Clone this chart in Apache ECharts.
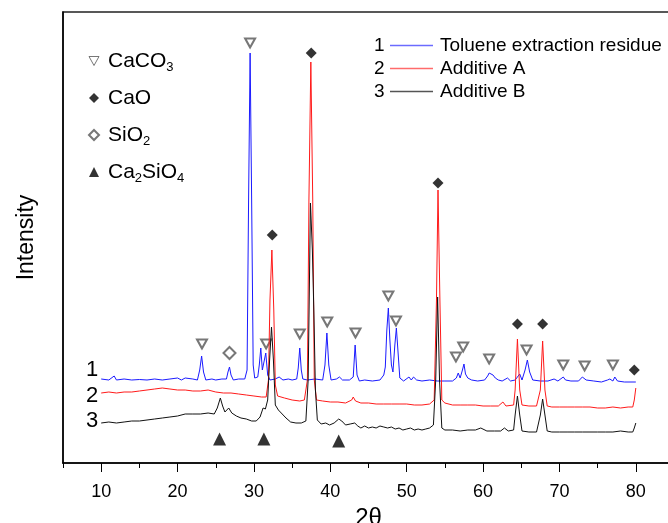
<!DOCTYPE html>
<html>
<head>
<meta charset="utf-8">
<script src="https://cdn.jsdelivr.net/npm/echarts@6/dist/echarts.min.js"></script>
<style>
  html, body { margin: 0; padding: 0; background: #fff; }
  #main { width: 668px; height: 523px; }
</style>
</head>
<body>
<div id="main"></div>
<script>
// XRD patterns, 2theta vs intensity (arbitrary units)
var toluene = [
  [10,84],[11,83],[11.7,87],[12,83],[13,84],[14,83],[15,83.5],[16,83],[17,84],[18,83],[19,84],[20,85],[20.5,83],[21,85],[22,84],[22.6,83],
  [22.9,93],[23.15,107],[23.4,91],[23.7,83],[24.5,84],[25,83],[25.8,84],[26.4,84],[26.6,91],[26.8,96],[27,88],[27.3,83],[28,84],[28.8,84],
  [29.1,93],[29.3,263],[29.5,410],[29.7,263],[29.9,98],[30.1,85],[30.5,86],[30.7,98],[30.9,115],[31.1,93],[31.3,93],[31.55,110],[31.8,88],
  [32.1,83],[32.8,84],[33.3,86],[33.8,83],[34.5,84],[35,83],[35.6,84],[35.8,95],[36,115],[36.2,93],[36.4,84],[37,83],[38,84],[39,83],
  [39.3,98],[39.55,130],[39.8,98],[40.1,83],[40.8,84],[41.2,86],[41.6,83],[42.5,83],[43,86],[43.25,118],[43.5,88],[43.8,82],[44.5,83],
  [45.5,82],[46.5,83],[47,88],[47.2,96],[47.4,133],[47.6,155],[47.8,123],[48,98],[48.2,91],[48.45,118],[48.65,135],[48.85,113],[49.1,85],
  [49.6,82],[50.3,86],[50.6,83],[50.9,86],[51.3,83],[52,82],[53,83],[54,82],[55,82],[56,82],[56.5,85],[56.75,90],[57,85],[57.3,93],
  [57.5,99],[57.7,89],[58,85],[58.2,87],[58.5,83],[59.3,82],[60.2,83],[60.6,87],[60.8,90],[61,88],[61.3,88],[61.6,85],[62,83],[62.5,82],
  [63.2,85],[63.6,82],[64.2,83],[64.8,89],[65.1,83],[65.5,93],[65.8,103],[66.1,91],[66.5,83],[67.5,82],[68.5,82],[69.3,84],[69.8,82],
  [70.5,86],[70.8,83],[71.5,82],[72.5,82],[73,86],[73.2,87],[73.5,83],[74.5,82],[75.5,81],[76.3,83],[76.6,84],[77,82],[77.25,86],
  [77.6,82],[78.5,81],[79.5,81],[80,81]
];
var additiveA = [
  [10,70],[11,71],[12,70],[13,71],[14,71],[15,72],[16,73],[17,74],[18,75],[19,74],[20,73],[21,73],[22,72],[23,72],[24,73],[25,71],
  [26,70],[27,70],[28,69],[29,68],[30,67],[31,66],[31.6,66],[31.9,83],[32.1,163],[32.35,213],[32.6,153],[32.8,78],[33.1,67],[34,65],
  [35,63],[36,62],[36.6,63],[37,83],[37.2,263],[37.45,401],[37.7,263],[37.9,83],[38.2,63],[39,62],[40,61],[41,61],[42,60],[42.8,63],
  [43,66],[43.3,62],[44,60],[45,60],[46,59],[47,59],[48,59],[49,59],[50,59],[51,58],[52,58],[53,59],[53.6,63],[53.9,163],[54.1,273],
  [54.35,163],[54.6,63],[55,60],[56,58],[57,58],[58,58],[59,58],[60,57],[61,57],[62,57],[62.6,61],[63,57],[64,58],[64.2,73],[64.5,124],
  [64.8,73],[65.1,58],[66,57],[67,57],[67.5,73],[67.8,122],[68.1,73],[68.4,57],[69,56],[70,56],[71,56],[72,56],[73,56],[74,56],[75,55],
  [76,55],[77,56],[78,55],[79,56],[79.6,56],[79.8,63],[80,75]
];
var additiveB = [
  [10,40],[11,41],[12,40],[13,41],[14,42],[15,42],[16,43],[17,44],[18,45],[19,46],[20,47],[21,49],[22,49],[23,49],[24,50],[24.8,49],
  [25.2,55],[25.6,65],[25.9,57],[26.2,51],[26.7,55],[27.1,50],[27.7,47],[28.3,45],[29,44],[29.7,42],[30.3,42],[30.8,46],[31.2,55],
  [31.5,54],[31.8,63],[32.05,103],[32.3,136],[32.55,103],[32.8,58],[33.2,53],[33.7,49],[34.2,45],[34.8,41],[35.5,40],[36.2,40],[36.8,42],
  [37.1,83],[37.4,260],[37.65,213],[37.85,150],[38.05,73],[38.3,43],[38.8,39],[39.4,40],[39.9,38],[40.5,40],[41.1,44],[41.5,42],[42,38],
  [42.6,39],[43.2,40],[43.6,37],[44,35],[44.5,37],[45,35],[45.5,36],[46,35],[46.5,37],[47,36],[47.5,35],[48,36],[48.5,34],[49,35],
  [49.5,33],[50,34],[50.5,35],[51,33],[51.5,34],[52,33],[52.5,34],[53,35],[53.5,38],[53.8,83],[54.05,166],[54.3,83],[54.6,35],[55,33],
  [56,33],[57,32],[58,33],[59,33],[59.7,35],[60.5,32],[61.5,32],[62.3,32],[62.8,35],[63.3,32],[64,33],[64.2,48],[64.5,67],[64.8,48],
  [65.1,32],[66,31],[67,31],[67.5,48],[67.8,64],[68.1,48],[68.4,32],[69,31],[70,31],[71,31],[72,31],[73,31],[74,31],[75,31],[76,31],
  [77,31],[78,32],[79,31],[79.6,31],[79.8,35],[80,40]
];

// phase markers
var caco3Marks = [[23.2,119],[29.5,420],[31.6,119],[36.0,129],[39.6,141],[43.3,130],[47.6,167],[48.6,142],[56.45,106],[57.4,116],
  [60.8,104],[65.7,113],[70.5,98],[73.3,97],[77.0,98]];
var caoMarks = [[32.4,228],[37.5,410],[54.1,280],[64.5,139],[67.8,139],[79.8,93]];
var sio2Marks = [[26.8,110]];
var ca2sio4Marks = [[25.5,24],[31.3,24],[41.1,22]];

var xTicks = [10, 20, 30, 40, 50, 60, 70, 80];

var FONT = 'Liberation Sans, Arial, sans-serif';
var BLUE = '#1a1aff', RED = '#ff1a1a', BLACK = '#111';
var phaseText = {
  'CaCO3': 'CaCO{s|3}',
  'CaO': 'CaO',
  'SiO2': 'SiO{s|2}',
  'Ca2SiO4': 'Ca{s|2}SiO{s|4}'
};

var chart = echarts.init(document.getElementById('main'));

var option = {
  animation: false,
  backgroundColor: '#fff',
  grid: {
    left: 63, top: 12, width: 611, height: 451,
    outerBoundsMode: 'none', containLabel: false,
    show: true, borderColor: '#222', borderWidth: 1.5
  },
  legend: [{
    data: [
      { name: 'CaCO3', icon: 'path://M0,0L10,0L5,9Z', itemStyle: { color: '#fff', borderColor: '#555', borderWidth: 1 } },
      'CaO', 'SiO2', 'Ca2SiO4'
    ],
    orient: 'vertical',
    left: 88, top: 48,
    padding: 0,
    itemWidth: 10, itemHeight: 10,
    itemGap: 11,
    formatter: function (name) { return phaseText[name]; },
    textStyle: {
      fontFamily: FONT, fontSize: 21, color: '#000', lineHeight: 26, padding: [0, 0, 0, 4],
      rich: { s: { fontFamily: FONT, fontSize: 13, lineHeight: 14, verticalAlign: 'bottom', color: '#000' } }
    }
  }, {
    data: [
      { name: 'Toluene extraction residue', itemStyle: { color: '#6b6bff', borderWidth: 0 } },
      { name: 'Additive A', itemStyle: { color: '#ff6b6b', borderWidth: 0 } },
      { name: 'Additive B', itemStyle: { color: '#555', borderWidth: 0 } }
    ],
    orient: 'vertical',
    left: 390, top: 34,
    padding: 0,
    icon: 'rect',
    itemWidth: 43, itemHeight: 1.5,
    itemGap: 0,
    itemStyle: { borderWidth: 0 },
    textStyle: { fontFamily: FONT, fontSize: 19, color: '#000', lineHeight: 23, padding: [0, 0, 0, 2] }
  }],
  xAxis: [{
    type: 'value', min: 5, max: 85, interval: 5,
    position: 'bottom',
    name: '2θ', nameLocation: 'middle', nameGap: 40,
    nameTextStyle: { fontFamily: FONT, fontSize: 24, color: '#000' },
    axisLine: { lineStyle: { color: '#000', width: 1.5 } },
    axisTick: { length: 5, lineStyle: { color: '#000' } },
    axisLabel: {
      margin: 20, fontFamily: FONT, fontSize: 18, color: '#000',
      formatter: function (v) { return v % 10 === 0 ? String(v) : ''; }
    },
    splitLine: { show: false }
  }, {
    type: 'value', min: 5, max: 85,
    position: 'bottom',
    axisLine: { show: false },
    axisTick: { show: true, customValues: xTicks, length: 9, lineStyle: { color: '#000' } },
    axisLabel: { show: false },
    splitLine: { show: false }
  }],
  yAxis: {
    type: 'value', min: 0, max: 451,
    name: 'Intensity', nameLocation: 'middle', nameGap: 25,
    nameTextStyle: { fontFamily: FONT, fontSize: 23, color: '#000' },
    axisLine: { show: true, lineStyle: { color: '#000', width: 1.5 } },
    axisTick: { show: false },
    axisLabel: { show: false },
    splitLine: { show: false }
  },
  series: [
    { name: 'Toluene extraction residue', type: 'line', data: toluene, showSymbol: false,
      color: BLUE, lineStyle: { width: 1, color: BLUE } },
    { name: 'Additive A', type: 'line', data: additiveA, showSymbol: false,
      color: RED, lineStyle: { width: 1, color: RED } },
    { name: 'Additive B', type: 'line', data: additiveB, showSymbol: false,
      color: BLACK, lineStyle: { width: 1, color: BLACK } },
    { name: 'CaCO3', type: 'scatter', data: caco3Marks, symbol: 'emptyTriangle', symbolRotate: 180,
      symbolSize: [10, 9], color: '#555', itemStyle: { color: '#555', borderColor: '#555', borderWidth: 1 } },
    { name: 'CaO', type: 'scatter', data: caoMarks, symbol: 'diamond', symbolSize: 11,
      color: '#000', itemStyle: { color: '#000' } },
    { name: 'SiO2', type: 'scatter', data: sio2Marks, symbol: 'emptyDiamond', symbolSize: 12,
      color: '#555', itemStyle: { color: '#555', borderColor: '#555', borderWidth: 1 } },
    { name: 'Ca2SiO4', type: 'scatter', data: ca2sio4Marks, symbol: 'triangle', symbolSize: 13,
      color: '#000', itemStyle: { color: '#000' } }
  ],
  graphic: [
    { type: 'text', left: 374, top: 34, style: { text: '1\n2\n3', font: '19px ' + FONT, lineHeight: 23, fill: '#000' } },
    { type: 'text', left: 86, top: 359, style: { text: '1', font: '22px ' + FONT, fill: '#000' } },
    { type: 'text', left: 86, top: 385, style: { text: '2', font: '22px ' + FONT, fill: '#000' } },
    { type: 'text', left: 86, top: 410, style: { text: '3', font: '22px ' + FONT, fill: '#000' } }
  ]
};

chart.setOption(option);
</script>
</body>
</html>
